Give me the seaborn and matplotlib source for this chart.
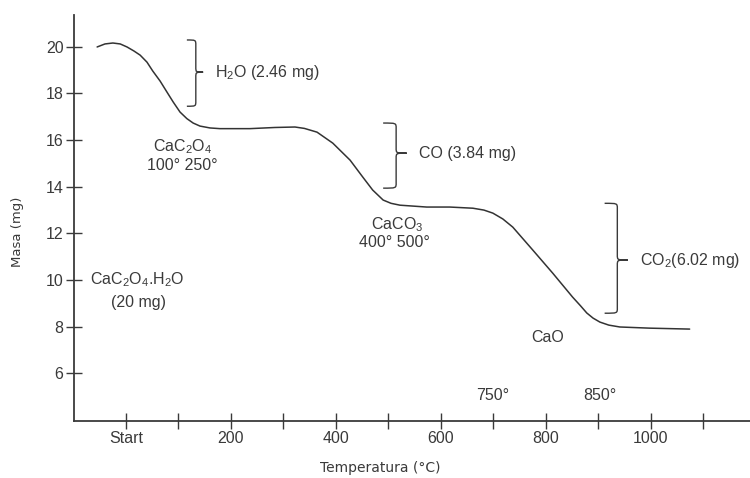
import numpy as np
import pandas as pd
import matplotlib
matplotlib.use("Agg")
import matplotlib.pyplot as plt
from matplotlib.path import Path
from matplotlib.patches import PathPatch
import seaborn as sns

# curva TGA del oxalato de calcio
temp = [-55, -40, -25, -11, 2, 15, 27, 40, 51, 65, 78, 90, 103, 116, 128, 141,
        160, 179, 236, 284, 322, 340, 364, 394, 427, 451, 470, 490, 505, 522,
        573, 617, 661, 682, 699, 718, 737, 775, 813, 851, 866, 878, 890, 903,
        920, 941, 998, 1074]
masa = [19.99, 20.12, 20.16, 20.12, 19.99, 19.82, 19.64, 19.34, 18.96, 18.53,
        18.06, 17.63, 17.2, 16.92, 16.73, 16.6, 16.52, 16.49, 16.49, 16.54,
        16.56, 16.5, 16.34, 15.87, 15.14, 14.42, 13.86, 13.43, 13.29, 13.21,
        13.13, 13.13, 13.08, 13.0, 12.87, 12.62, 12.27, 11.29, 10.3, 9.27, 8.9,
        8.59, 8.37, 8.2, 8.07, 7.99, 7.94, 7.9]

x_ticks = [0, 100, 200, 300, 400, 500, 600, 700, 800, 900, 1000, 1100]
x_labels = ["Start", "", "200", "", "400", "", "600", "", "800", "", "1000", ""]
y_ticks = [6, 8, 10, 12, 14, 16, 18, 20]

# llaves: (x_inicio, x_punta, y_arriba, y_abajo, y_punta, texto)
llaves = [
    (116, 147, 20.29, 17.45, 18.91, r"$\mathregular{H_2O}$ (2.46 mg)"),
    (490, 535, 16.73, 13.94, 15.44, "CO (3.84 mg)"),
    (912, 956, 13.29, 8.58, 10.86, r"$\mathregular{CO_2}$(6.02 mg)"),
]

etiquetas = [
    (108, 15.70, r"$\mathregular{CaC_2O_4}$"),
    (108, 14.93, "100° 250°"),
    (516, 12.36, r"$\mathregular{CaCO_3}$"),
    (512, 11.59, "400° 500°"),
    (804, 7.56, "CaO"),
    (21, 10.0, r"$\mathregular{CaC_2O_4}$.$\mathregular{H_2O}$"),
    (23, 9.06, "(20 mg)"),
    (699, 5.07, "750°"),
    (903, 5.07, "850°"),
]

sns.set_style("ticks")
plt.rcParams['font.family'] = ['Liberation Sans', 'DejaVu Sans']
gris = "#3a3a3a"

df = pd.DataFrame({"Temperatura": temp, "Masa": masa})

fig = plt.figure(figsize=(7.5, 4.78), dpi=100)
ax = fig.add_axes([0.0987, 0.1192, 0.9013, 0.8494])
sns.lineplot(data=df, x="Temperatura", y="Masa", color="#333333", lw=1.1, ax=ax)

ax.set_xlim(-99, 1189)
ax.set_ylim(3.96, 21.36)
ax.set_xticks(x_ticks)
ax.set_xticklabels(x_labels)
ax.set_yticks(y_ticks)
for s in ["top", "right"]:
    ax.spines[s].set_visible(False)
for s in ["left", "bottom"]:
    ax.spines[s].set_color(gris)
    ax.spines[s].set_linewidth(1.3)
ax.tick_params(direction="inout", length=11, width=1.0, color=gris,
               labelsize=11.5, labelcolor=gris, pad=2)

ax.set_xlabel("Temperatura (°C)", family="DejaVu Sans", fontsize=10, color=gris)
ax.set_ylabel("Masa (mg)", family="DejaVu Sans", fontsize=9.5, color=gris)
ax.xaxis.set_label_coords(0.453, -0.116)
ax.xaxis.label.set_va("center")
ax.yaxis.set_label_coords(-0.083, 0.466)
ax.yaxis.label.set_va("center")

for x0, x1, ya, yb, yp, txt in llaves:
    xm = x0 + (x1 - x0) * 0.55
    r = 0.22
    verts = [(x0, ya), (xm, ya), (xm, ya), (xm, ya - r),
             (xm, yp + r),
             (xm, yp), (xm, yp), (x1, yp),
             (xm, yp), (xm, yp), (xm, yp - r),
             (xm, yb + r),
             (xm, yb), (xm, yb), (x0, yb)]
    codes = [Path.MOVETO, Path.CURVE4, Path.CURVE4, Path.CURVE4,
             Path.LINETO,
             Path.CURVE4, Path.CURVE4, Path.CURVE4,
             Path.CURVE4, Path.CURVE4, Path.CURVE4,
             Path.LINETO,
             Path.CURVE4, Path.CURVE4, Path.CURVE4]
    ax.add_patch(PathPatch(Path(verts, codes), fill=False, ec=gris, lw=1.0))
    ax.text(x1 + 23, yp, txt, ha="left", va="center", fontsize=11.5, color=gris)

for x, y, txt in etiquetas:
    ax.text(x, y, txt, ha="center", va="center", fontsize=11.5, color=gris)

fig.savefig("out.png", dpi=100)
